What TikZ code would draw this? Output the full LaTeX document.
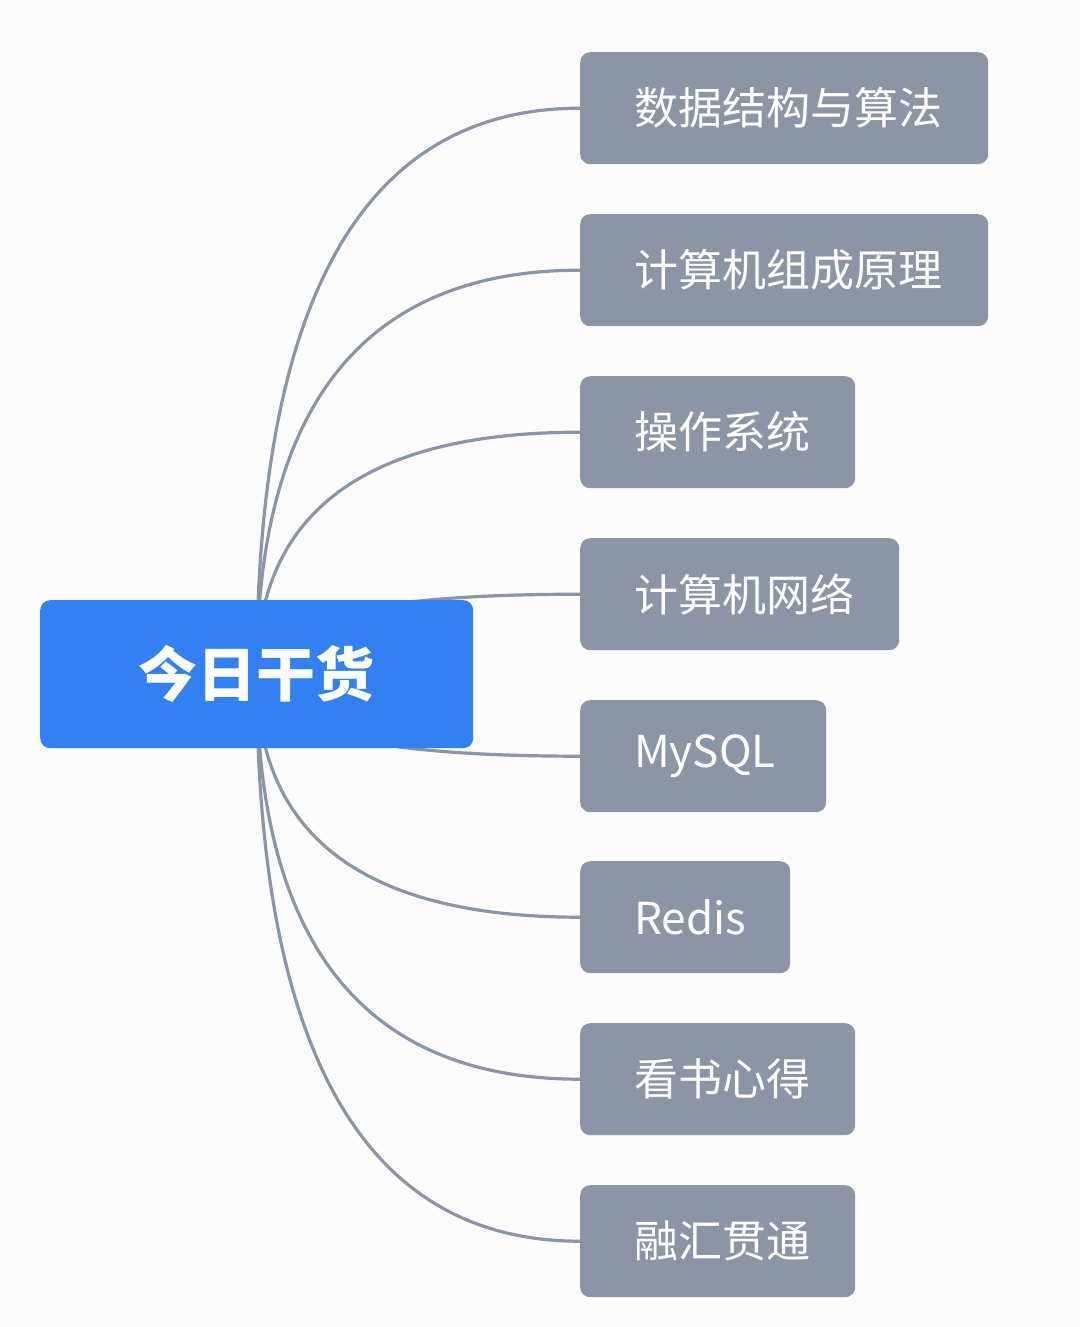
\documentclass[tikz,border=0pt]{standalone}
\usepackage{fontspec}
\setmainfont{Noto Sans CJK SC}
\usetikzlibrary{calc,backgrounds}
\definecolor{bgc}{HTML}{FCFCFC}
\definecolor{rootblue}{HTML}{3380F2}
\definecolor{leafgray}{HTML}{8C95A6}
\definecolor{linegray}{HTML}{8C95A6}
\tikzset{
  leaf/.style={fill=leafgray, rounded corners=10pt, anchor=north west, minimum height=112pt,
    inner xsep=0pt, inner ysep=0pt, align=left, text=white, font=\fontsize{44}{48}\selectfont},
  rootbox/.style={fill=rootblue, rounded corners=10pt, anchor=north west, minimum width=433pt,
    minimum height=148pt, inner sep=0pt, text=white, font=\bfseries\fontsize{59}{63}\selectfont},
  conn/.style={draw=linegray, line width=3.2pt},
}
\begin{document}
\begin{tikzpicture}[x=1pt,y=-1pt]
\useasboundingbox (0,0) rectangle (1080,1327);
\node[rootbox] (root) at (40,600) {今日干货};
\node[leaf, text width=408pt] (n1) at (580,52) {\hspace*{54pt}数据结构与算法};
\node[leaf, text width=408pt] (n2) at (580,214) {\hspace*{54pt}计算机组成原理};
\node[leaf, text width=275pt] (n3) at (580,376) {\hspace*{54pt}操作系统};
\node[leaf, text width=319pt] (n4) at (580,538) {\hspace*{54pt}计算机网络};
\node[leaf, text width=246pt] (n5) at (580,700) {\hspace*{54pt}MySQL};
\node[leaf, text width=210pt] (n6) at (580,861) {\hspace*{54pt}Redis};
\node[leaf, text width=275pt] (n7) at (580,1023) {\hspace*{54pt}看书心得};
\node[leaf, text width=275pt] (n8) at (580,1185) {\hspace*{54pt}融汇贯通};
\begin{pgfonlayer}{background}
\fill[bgc] (0,0) rectangle (1080,1327);
\foreach \n in {n1,n2,n3,n4,n5,n6,n7,n8}{
  \draw[conn] (root.center) .. controls ($(root.center)!0.6667!(root.center |- \n.west)$)
     and ($(\n.west)!0.6667!(root.center |- \n.west)$) .. (\n.west);
}
\end{pgfonlayer}
\end{tikzpicture}
\end{document}
